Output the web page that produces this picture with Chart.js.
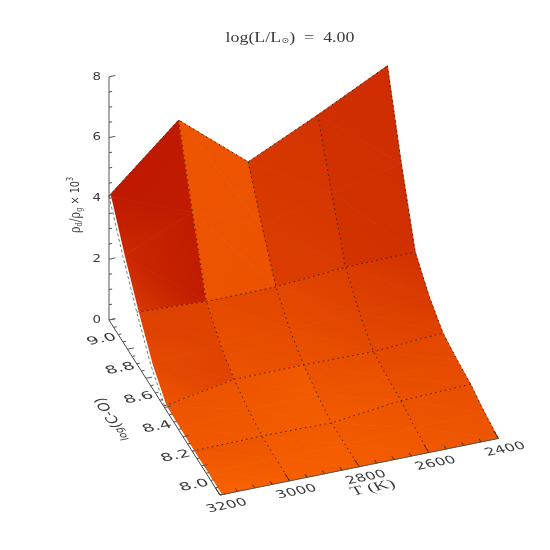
<!DOCTYPE html>
<html><head><meta charset="utf-8">
<style>html,body{margin:0;padding:0;background:#fff}canvas{display:block}</style>
<script src="https://cdn.jsdelivr.net/npm/chart.js@4"></script>
</head><body><canvas id="c" width="550" height="550"></canvas>
<script>
// ---- data ----
const temps = [3200, 3000, 2800, 2600, 2400];
const logCRows = [9.2, 9.05, 8.9, 8.75, 8.6, 8.45, 8.3, 8.15, 8.0];
const rho920 = [4.08, 6.11, 4.27, 5.35, 6.50];
const rho905 = [2.82, 3.80, 2.88, 3.50, 4.00];
const rho890 = [1.70, 1.58, 1.60, 1.78, 1.82];
const rho875 = [0.70, 0.90, 0.92, 1.00, 1.08];
const rho860 = [0.05, 0.46, 0.47, 0.44, 0.59];
const rho845 = [0.02, 0.20, 0.20, 0.33, 0.44];
const rho830 = [0.00, 0.04, 0.00, 0.27, 0.34];
const rho815 = [0.00, 0.02, 0.00, 0.10, 0.13];
const rho800 = [0.00, 0.00, 0.00, 0.00, 0.00];
const rhoRows = [rho920, rho905, rho890, rho875, rho860, rho845, rho830, rho815, rho800];
const gridRows = [9.2, 8.9, 8.6, 8.3];
const zTicks = [0, 2, 4, 6, 8];
const logCTicks = [8.0, 8.2, 8.4, 8.6, 8.8, 9.0];
const tTicks = [3200, 3000, 2800, 2600, 2400];

// ---- shading per large cell (corners: back-left, back-right, front-right, front-left) ----
const shadeBand1 = [[.02,.02,.05,.42],[.80,.78,.76,.78],[.42,.35,.45,.48],[.30,.28,.30,.36]];
const shadeBand2 = [[.52,.58,.56,.78],[.66,.60,.72,.78],[.62,.50,.65,.76],[.48,.32,.56,.64]];
const shadeBand3 = [[.78,.80,.85,.84],[.78,.85,.90,.88],[.74,.70,.80,.88],[.64,.62,.70,.76]];
const shadeBand4 = [[.80,.80,.92,1.0],[.85,.88,.92,.95],[.85,.78,.85,.90],[.76,.72,.80,.85]];
const shadeBands = [shadeBand1, shadeBand2, shadeBand3, shadeBand4];

// ---- view: oblique projection of (T, logC, rho) into the screen scales ----
const view = {x0:220, y0:495, xT:0.348, yT:0.07075, xC:92.5, yC:145.83, yZ:30.4};
function proj(T, C, z){
  return {x: view.x0 + (3200-T)*view.xT - (C-8)*view.xC,
          y: view.y0 - (3200-T)*view.yT - (C-8)*view.yC - z*view.yZ};
}
const GAP = {x:NaN, y:NaN};
const shadeRGB = s => `rgb(${Math.round(190+60*s)},${Math.round(24+76*s)},0)`;

function triGradient(c, p, s){
  const d = (p[1].x-p[0].x)*(p[2].y-p[0].y)-(p[2].x-p[0].x)*(p[1].y-p[0].y);
  const a = ((s[1]-s[0])*(p[2].y-p[0].y)-(s[2]-s[0])*(p[1].y-p[0].y))/d;
  const b = ((s[2]-s[0])*(p[1].x-p[0].x)-(s[1]-s[0])*(p[2].x-p[0].x))/d;
  const n = a*a+b*b;
  if (n < 1e-9) return shadeRGB(s[0]);
  const ax = p[0].x - s[0]*a/n, ay = p[0].y - s[0]*b/n;
  const g = c.createLinearGradient(ax, ay, ax+a/n, ay+b/n);
  for (let i=0;i<=4;i++) g.addColorStop(i/4, shadeRGB(i/4));
  return g;
}

const datasets = [];
const ctx0 = document.getElementById('c').getContext('2d');
function addTri(p, s){
  const fill = triGradient(ctx0, p, s);
  datasets.push({data:[p[0],p[1],p[2],p[0]], showLine:true, pointRadius:0, fill:'shape',
    backgroundColor:fill, borderColor:fill, borderWidth:0.8});
}
// surface: back to front
for (let r=0;r<logCRows.length-1;r++){
  const band = shadeBands[r>>1], f = (r%2)/2;
  for (let i=0;i<temps.length-1;i++){
    const q = band[i];
    const l0 = q[0]+(q[3]-q[0])*f, r0 = q[1]+(q[2]-q[1])*f;
    const l1 = q[0]+(q[3]-q[0])*(f+.5), r1 = q[1]+(q[2]-q[1])*(f+.5);
    const A = proj(temps[i],logCRows[r],rhoRows[r][i]), B = proj(temps[i+1],logCRows[r],rhoRows[r][i+1]);
    const C = proj(temps[i+1],logCRows[r+1],rhoRows[r+1][i+1]), D = proj(temps[i],logCRows[r+1],rhoRows[r+1][i]);
    addTri([A,B,C],[l0,r0,r1]);
    addTri([A,C,D],[l0,r1,l1]);
  }
}
function addLine(data, color, width, dash){
  datasets.push({data, showLine:true, pointRadius:0, fill:false, borderColor:color,
    borderWidth:width, borderDash:dash||[], spanGaps:false});
}
const DOT = 'rgba(45,20,0,0.85)';
// white sliver along the T=3200 edge, then its grey dashes
addLine(logCRows.map((C,r)=>proj(3200,C,rhoRows[r][0])), '#fff', 4);
addLine(logCRows.slice(0,5).map((C,r)=>proj(3200,C,rhoRows[r][0])), '#777', 1, [3,2.5]);
// constant-T grid lines
for (let i=1;i<temps.length;i++)
  addLine(logCRows.map((C,r)=>proj(temps[i],C,rhoRows[r][i])), DOT, 1, [1.6,3.4]);
// constant-logC grid lines
gridRows.forEach(C=>{
  const r = logCRows.indexOf(C);
  addLine(temps.map((T,i)=>proj(T,C,rhoRows[r][i])), DOT, 1, [1.6,3.4]);
});
// axes and ticks
const AX = '#555';
addLine([proj(3200,9.2,0),proj(3200,9.2,8)], AX, 1);
addLine([proj(3200,9.2,0),proj(3200,8,0)], '#444', 1);
addLine([proj(3200,8,0),proj(2400,8,0)], '#555', 1);
const zt=[], ct=[], tt=[];
for (let k=0;k<=16;k++){ const z=k*0.5, len=(k%4===0)?18:9;
  zt.push(proj(3200,9.2,z),proj(3200-len,9.2,z),GAP); }
for (let k=0;k<=24;k++){ const C=8+k*0.05, len=(k%4===0)?18:9;
  ct.push(proj(3200,C,0),proj(3200-len,C,0),GAP); }
for (let k=0;k<=16;k++){ const T=3200-k*50, len=(k%4===0)?0.05:0.022;
  tt.push(proj(T,8,0),proj(T,8+len,0),GAP); }
addLine(zt,AX,1); addLine(ct,AX,1); addLine(tt,'#4a2a10',1);
datasets.reverse(); // Chart.js paints the first dataset last

// ---- text ----
function runs(c, list, targetW){
  let w=0;
  list.forEach(r=>{ c.font=r.font; r.w=c.measureText(r.t).width; w+=r.w; });
  const sx=targetW/w;
  c.scale(sx,1);
  let x=-w/2;
  list.forEach(r=>{ c.font=r.font; c.fillText(r.t,x,r.dy||0); x+=r.w; });
}
const TXT='#3a3a3a';
const U=[.98,-.199], V=[.535,.844];
const numFont='12px "DejaVu Sans"';
const labelPlugin = {id:'labels', afterDraw(chart){
  const c=chart.ctx, sx=chart.scales.x, sy=chart.scales.y;
  const px=p=>({x:sx.getPixelForValue(p.x), y:sy.getPixelForValue(p.y)});
  c.save();
  c.fillStyle=TXT; c.textAlign='left'; c.textBaseline='middle';
  const floorText=(t,p,w,font)=>{
    const q=px(p); c.save();
    c.transform(U[0],U[1],V[0],V[1],q.x,q.y);
    runs(c,[{t,font:font||numFont}],w); c.restore();
  };
  tTicks.forEach(T=>floorText(String(T),proj(T,7.925,0),40));
  logCTicks.forEach(C=>floorText(C.toFixed(1),proj(3250,C+0.09,0),29));
  zTicks.forEach(z=>{
    const q=px(proj(3235,9.2,z)); c.save(); c.translate(q.x,q.y-2.5);
    runs(c,[{t:String(z),font:'10.5px "DejaVu Sans"'}],8.5); c.restore();
  });
  // T title
  floorText('T (K)',{x:373,y:488},44,'14px "Liberation Serif"');
  // logC title, reading up along the axis
  c.save();
  c.transform(-.535,-.844,.98,-.199,113,419);
  runs(c,[{t:'log',font:'11px "DejaVu Sans"'},{t:'(C-O)',font:'15px "DejaVu Sans"'}],50);
  c.restore();
  // rho title
  c.save(); c.translate(76,205); c.rotate(-Math.PI/2);
  runs(c,[{t:'\u03c1',font:'15px "DejaVu Serif"'},{t:'d',font:'9px "DejaVu Serif"',dy:4},{t:'/\u03c1',font:'15px "DejaVu Serif"'},{t:'g',font:'9px "DejaVu Serif"',dy:4},{t:' \u00d7 10',font:'13px "DejaVu Sans"'},{t:'3',font:'8.5px "DejaVu Sans"',dy:-5}],56);
  c.restore();
  // main title
  c.save(); c.translate(290,38);
  const f='15px "Liberation Serif"';
  runs(c,[{t:'log(L/L',font:f},{t:'\u2299',font:'8px "DejaVu Sans"',dy:3},{t:')  =  4.00',font:f}],129);
  c.restore();
  c.restore();
}};

new Chart(document.getElementById('c'),{
  type:'scatter',
  data:{datasets},
  options:{
    responsive:false, animation:false, events:[], clip:false,
    layout:{padding:0},
    plugins:{legend:{display:false},tooltip:{enabled:false},title:{display:false}},
    scales:{
      x:{type:'linear',min:0,max:550,display:false},
      y:{type:'linear',min:0,max:550,reverse:true,display:false}
    }
  },
  plugins:[labelPlugin]
});
</script></body></html>
